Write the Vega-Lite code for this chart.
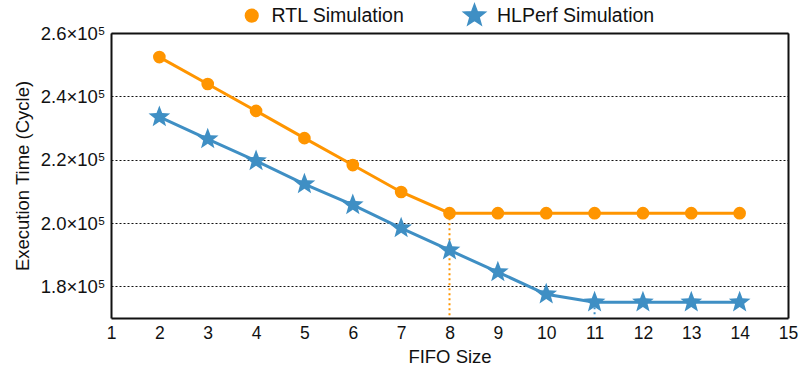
{
  "$schema": "https://vega.github.io/schema/vega-lite/v6.json",
  "width": 677,
  "height": 285,
  "padding": {"left": 13, "top": 3, "right": 8, "bottom": 5},
  "background": "white",
  "config": {"view": {"stroke": null}},
  "resolve": {"axis": {"x": "independent", "y": "independent"}},
  "datasets": {
    "main": [
      {"fifo": 2, "cycles": 252400, "series": "RTL Simulation"},
      {"fifo": 3, "cycles": 243900, "series": "RTL Simulation"},
      {"fifo": 4, "cycles": 235400, "series": "RTL Simulation"},
      {"fifo": 5, "cycles": 226800, "series": "RTL Simulation"},
      {"fifo": 6, "cycles": 218300, "series": "RTL Simulation"},
      {"fifo": 7, "cycles": 209800, "series": "RTL Simulation"},
      {"fifo": 8, "cycles": 203100, "series": "RTL Simulation"},
      {"fifo": 9, "cycles": 203100, "series": "RTL Simulation"},
      {"fifo": 10, "cycles": 203100, "series": "RTL Simulation"},
      {"fifo": 11, "cycles": 203100, "series": "RTL Simulation"},
      {"fifo": 12, "cycles": 203100, "series": "RTL Simulation"},
      {"fifo": 13, "cycles": 203100, "series": "RTL Simulation"},
      {"fifo": 14, "cycles": 203100, "series": "RTL Simulation"},
      {"fifo": 2, "cycles": 233500, "series": "HLPerf Simulation"},
      {"fifo": 3, "cycles": 226500, "series": "HLPerf Simulation"},
      {"fifo": 4, "cycles": 219600, "series": "HLPerf Simulation"},
      {"fifo": 5, "cycles": 212300, "series": "HLPerf Simulation"},
      {"fifo": 6, "cycles": 205700, "series": "HLPerf Simulation"},
      {"fifo": 7, "cycles": 198400, "series": "HLPerf Simulation"},
      {"fifo": 8, "cycles": 191400, "series": "HLPerf Simulation"},
      {"fifo": 9, "cycles": 184500, "series": "HLPerf Simulation"},
      {"fifo": 10, "cycles": 177500, "series": "HLPerf Simulation"},
      {"fifo": 11, "cycles": 175000, "series": "HLPerf Simulation"},
      {"fifo": 12, "cycles": 175000, "series": "HLPerf Simulation"},
      {"fifo": 13, "cycles": 175000, "series": "HLPerf Simulation"},
      {"fifo": 14, "cycles": 175000, "series": "HLPerf Simulation"}
    ],
    "marks": [
      {"fifo": 8, "cycles": 203100, "series": "RTL Simulation"},
      {"fifo": 11, "cycles": 175000, "series": "HLPerf Simulation"}
    ]
  },
  "layer": [
    {
      "data": {"name": "marks"},
      "mark": {"type": "rule", "strokeWidth": 2, "strokeDash": [2, 3]},
      "encoding": {
        "x": {"field": "fifo", "type": "quantitative", "scale": {"domain": [1, 15], "nice": false}, "axis": {"orient": "top", "title": null, "labels": false, "ticks": false, "grid": false, "domain": true, "domainColor": "#111", "domainWidth": 2}},
        "y": {"field": "cycles", "type": "quantitative", "scale": {"domain": [170000, 260000], "nice": false, "zero": false}, "axis": {"orient": "right", "title": null, "labels": false, "ticks": false, "grid": false, "domain": true, "domainColor": "#111", "domainWidth": 2}},
        "y2": {"datum": 170000},
        "color": {"field": "series", "type": "nominal", "scale": {"domain": ["RTL Simulation", "HLPerf Simulation"], "range": ["#ff9500", "#3f8fc4"]}}
      }
    },
    {
      "data": {"name": "main"},
      "mark": {"type": "line", "strokeWidth": 3},
      "encoding": {
        "x": {"field": "fifo", "type": "quantitative", "title": "FIFO Size", "scale": {"domain": [1, 15], "nice": false},
          "axis": {"orient": "bottom", "values": [1,2,3,4,5,6,7,8,9,10,11,12,13,14,15], "grid": false, "domain": true, "domainColor": "#111", "domainWidth": 2, "ticks": false, "labelFont": "Liberation Sans", "titleFont": "Liberation Sans", "labelFontSize": 17.5, "titleFontSize": 18.5, "labelColor": "#111", "titleColor": "#111", "titleFontWeight": "normal", "labelPadding": 6, "titlePadding": 6, "labelFlush": false}},
        "y": {"field": "cycles", "type": "quantitative", "title": "Execution Time (Cycle)", "scale": {"domain": [170000, 260000], "nice": false, "zero": false},
          "axis": {"orient": "left", "values": [180000, 200000, 220000, 240000, 260000], "labelExpr": "format(datum.value/100000, '.1f') + '×10⁵'", "domain": true, "domainColor": "#111", "domainWidth": 2, "ticks": false, "grid": true, "gridColor": "#111", "gridDash": [2, 2], "gridWidth": 1, "gridOpacity": 1, "labelFont": "Liberation Sans", "titleFont": "Liberation Sans", "labelFontSize": 18.5, "titleFontSize": 18.5, "labelColor": "#111", "titleColor": "#111", "titleFontWeight": "normal", "labelPadding": 6, "titlePadding": 8}},
        "color": {"field": "series", "type": "nominal", "scale": {"domain": ["RTL Simulation", "HLPerf Simulation"], "range": ["#ff9500", "#3f8fc4"]},
          "legend": {"orient": "none", "legendX": 131, "legendY": -30, "direction": "horizontal", "title": null, "labelFont": "Liberation Sans", "labelFontSize": 19.5, "labelColor": "#111", "columnPadding": 55, "symbolSize": 260, "labelOffset": 10}}
      }
    },
    {
      "data": {"name": "main"},
      "mark": {"type": "point", "filled": true, "opacity": 1},
      "encoding": {
        "x": {"field": "fifo", "type": "quantitative", "axis": null},
        "y": {"field": "cycles", "type": "quantitative", "axis": null},
        "color": {"field": "series", "type": "nominal"},
        "shape": {"field": "series", "type": "nominal", "scale": {"domain": ["RTL Simulation", "HLPerf Simulation"], "range": ["circle", "M0,-1L0.247,-0.34L0.951,-0.309L0.399,0.13L0.588,0.809L0,0.42L-0.588,0.809L-0.399,0.13L-0.951,-0.309L-0.247,-0.34Z"]}},
        "size": {"field": "series", "type": "nominal", "scale": {"domain": ["RTL Simulation", "HLPerf Simulation"], "range": [160, 520]}, "legend": null}
      }
    }
  ]
}
